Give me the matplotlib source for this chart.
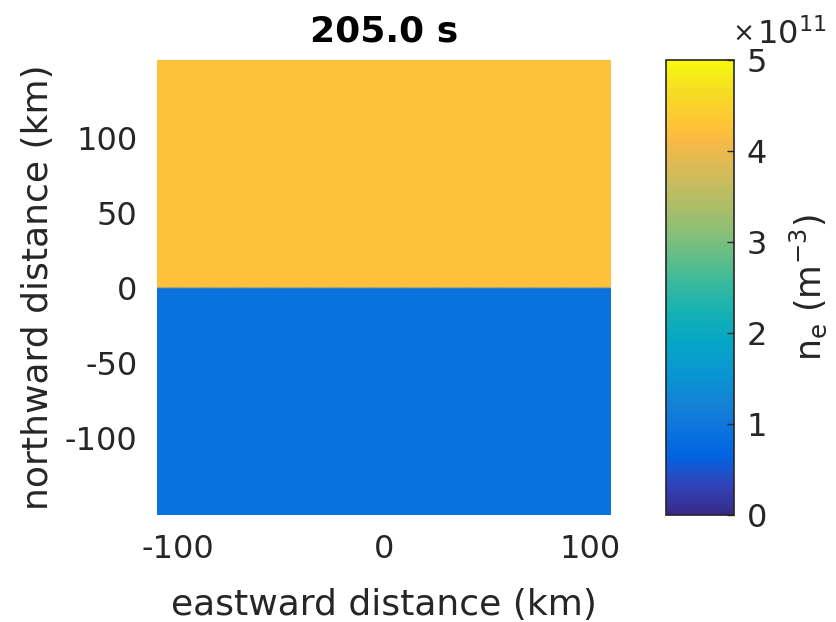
import matplotlib.pyplot as plt
import numpy as np
from matplotlib.colors import LinearSegmentedColormap

# parula-like colour map (MATLAB default), sampled anchors
parula_rgb = [
    (0.2081, 0.1663, 0.5292), (0.1959, 0.2645, 0.7279),
    (0.0117, 0.3875, 0.8820), (0.0165, 0.4266, 0.8786),
    (0.0498, 0.4586, 0.8641), (0.0779, 0.5040, 0.8384),
    (0.0343, 0.5966, 0.8199), (0.0228, 0.6535, 0.7768),
    (0.0843, 0.6928, 0.7062), (0.2178, 0.7250, 0.6193),
    (0.3953, 0.7459, 0.5244), (0.5709, 0.7485, 0.4494),
    (0.7184, 0.7411, 0.3905), (0.8507, 0.7299, 0.3360),
    (0.9739, 0.7314, 0.2666), (0.9938, 0.7455, 0.2403),
    (0.9990, 0.7653, 0.2164), (0.9880, 0.8066, 0.1794),
    (0.9626, 0.8705, 0.1309), (0.9661, 0.9514, 0.0755),
    (0.9763, 0.9831, 0.0538),
]
parula_pos = [0, 4, 8, 10, 12, 15, 20, 24, 28, 32, 36, 40, 44, 48, 52, 53,
              54, 56, 59, 62, 63]
parula = LinearSegmentedColormap.from_list(
    'parula', [(p / 63, c) for p, c in zip(parula_pos, parula_rgb)])

# grid (km)
x_km = np.linspace(-110, 110, 221)
y_km = np.linspace(-151, 152, 304)

# electron density in the two regions (m^-3)
ne_north = 4.25e11
ne_south = 0.9e11
# boundary height (km) read along the x-axis, segment by segment
boundary_km = [0.5, 0.0, 0.8, 0.2, 0.0, 0.6, 0.1, 0.7, 0.0, 0.4, 0.3]

seg = np.minimum((x_km - x_km[0]) / (x_km[-1] - x_km[0]) * len(boundary_km),
                 len(boundary_km) - 1).astype(int)
bnd = np.array(boundary_km)[seg]
X, Y = np.meshgrid(x_km, y_km)
ne = np.where(Y > bnd[None, :], ne_north, ne_south)

txt = '#262626'
fig = plt.figure(figsize=(8.36, 6.22), dpi=100)
ax = fig.add_axes([0.188, 0.172, 0.543, 0.7315])
cax = fig.add_axes([0.797, 0.172, 0.081, 0.7315])

pc = ax.pcolormesh(x_km, y_km, ne, cmap=parula, vmin=0, vmax=5e11,
                   shading='gouraud')
ax.set_xlim(-110, 110)
ax.set_ylim(-151, 152)
ax.set_xticks([-100, 0, 100])
ax.set_xticklabels(['-100', '0', '100'])
ax.set_yticks([-100, -50, 0, 50, 100])
ax.set_yticklabels(['-100', '-50', '0', '50', '100'])
ax.tick_params(length=0, labelsize=23, colors=txt, pad=14)
for s in ax.spines.values():
    s.set_visible(False)
ax.set_xlabel('eastward distance (km)', fontsize=26, color=txt, labelpad=16)
ax.set_ylabel('northward distance (km)', fontsize=26, color=txt, labelpad=7)
ax.set_title('205.0 s', fontsize=26, fontweight='bold', pad=13)

cb = fig.colorbar(pc, cax=cax)
cb.set_ticks(np.arange(0, 6) * 1e11)
cb.set_ticklabels(['0', '1', '2', '3', '4', '5'])
cb.ax.tick_params(labelsize=23, colors=txt, direction='in', length=5,
                  width=1, pad=9)
cb.outline.set_edgecolor(txt)
cb.outline.set_linewidth(1.2)
cb.set_label(r'n$_\mathrm{e}$ (m$^{-3}$)', fontsize=25, color=txt,
             labelpad=15)
fig.text(0.876, 0.935, r'$\times$', fontsize=19, color=txt)
fig.text(0.905, 0.93, r'10$^{11}$', fontsize=23, color=txt)

fig.savefig('out.png', dpi=100)
